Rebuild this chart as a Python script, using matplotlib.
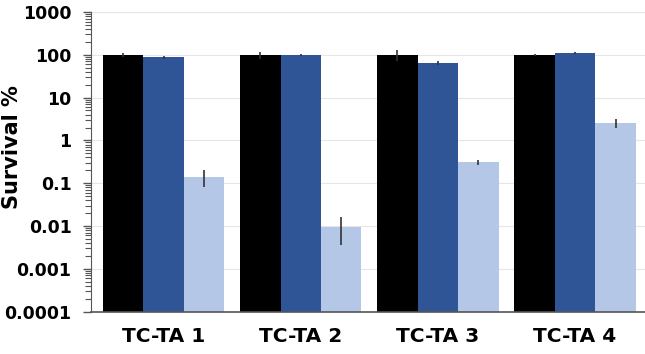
import numpy as np
import matplotlib.pyplot as plt

# Survival % per strain, three conditions
groups = ["TC-TA 1", "TC-TA 2", "TC-TA 3", "TC-TA 4"]
black_vals = [100, 100, 100, 100]
black_err = [12, 18, 28, 6]
dark_vals = [88, 100, 65, 108]
dark_err = [6, 5, 6, 6]
light_vals = [0.14, 0.0095, 0.31, 2.5]
light_err_lo = [0.06, 0.006, 0.04, 0.5]
light_err_hi = [0.06, 0.0065, 0.04, 0.6]

fig = plt.figure(figsize=(6.45, 3.54), dpi=100)
ax = fig.add_axes([0.141, 0.12, 0.859, 0.846])

x = np.arange(len(groups))
w = 0.295

ax.bar(x - w, black_vals, w, color="black", zorder=2)
ax.bar(x, dark_vals, w, color="#2F5597", zorder=2)
ax.bar(x + w, light_vals, w, color="#B4C7E7", zorder=2)

ekw = dict(fmt="none", ecolor="#333333", elinewidth=1.2, capsize=0, zorder=3)
ax.errorbar(x - w, black_vals, yerr=black_err, **ekw)
ax.errorbar(x, dark_vals, yerr=dark_err, **ekw)
ax.errorbar(x + w, light_vals, yerr=[light_err_lo, light_err_hi], **ekw)

ax.set_yscale("log")
ax.set_ylim(1e-4, 1000)
ax.set_xlim(-0.53, 3.51)
ax.set_yticks([1e-4, 1e-3, 1e-2, 0.1, 1, 10, 100, 1000])
ax.set_yticklabels(["0.0001", "0.001", "0.01", "0.1", "1", "10", "100", "1000"],
                   fontsize=12.5, fontweight="bold")
ax.set_xticks(x)
ax.set_xticklabels(groups, fontsize=14.5, fontweight="bold")
ax.tick_params(axis="x", length=0, pad=11)
ax.tick_params(axis="y", which="major", length=6, width=1, color="#555555", pad=8)
ax.tick_params(axis="y", which="minor", length=4, width=0.8, color="#555555")
ax.set_ylabel("Survival %", fontsize=15, fontweight="bold")
ax.yaxis.set_label_coords(-0.125, 0.55)

ax.grid(axis="y", which="major", color="#e6e6e6", linewidth=0.8, zorder=0)
ax.set_axisbelow(True)
for s in ["top", "right"]:
    ax.spines[s].set_visible(False)
ax.spines["left"].set_color("#555555")
ax.spines["bottom"].set_color("#555555")
ax.spines["bottom"].set_linewidth(1.2)

fig.savefig("out.png", dpi=100)
